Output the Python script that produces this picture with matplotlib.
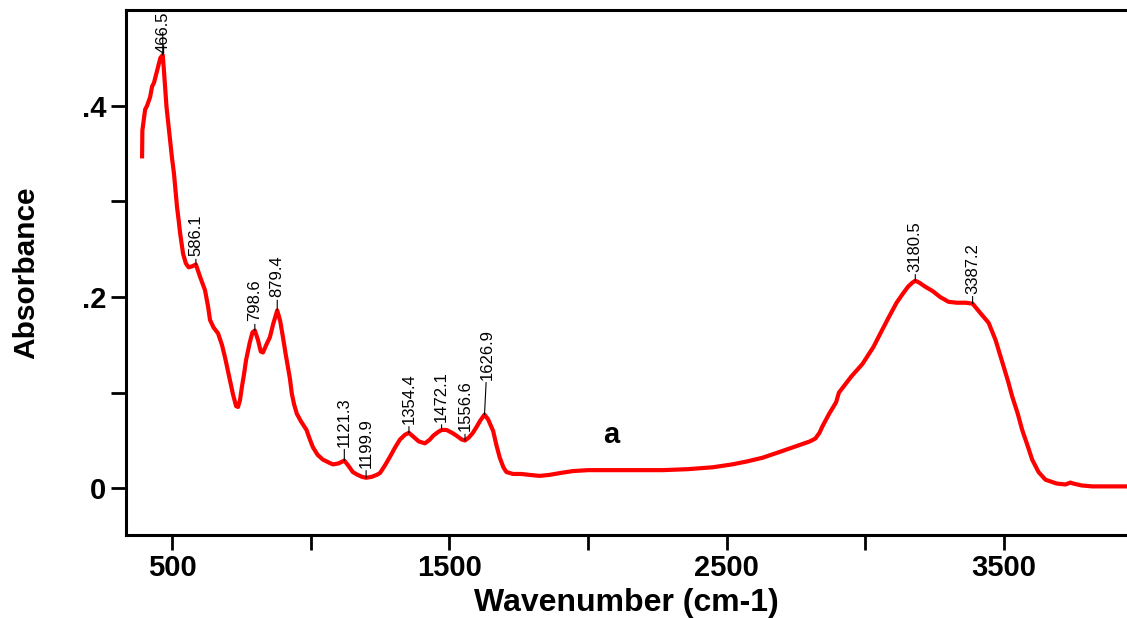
import numpy as np
import matplotlib
matplotlib.use('Agg')
import matplotlib.pyplot as plt

plt.rcParams['font.family'] = ['Liberation Sans', 'DejaVu Sans']

# 光谱数据：波数 (cm-1) 与吸光度
wavenumber = [392, 393, 403, 410, 421, 428, 435, 442, 450, 458, 466.5, 471, 476, 480, 487,
              493, 500, 507, 513, 518, 524, 529, 540, 550, 560, 572, 586.1, 600, 619, 630,
              637, 650, 666, 680, 691, 700, 709, 720, 731, 738, 745, 752, 760, 767, 780,
              790, 798.6, 810, 820, 828, 840, 853, 865, 879.4, 890, 900, 910, 918, 925, 932,
              940, 950, 965, 985, 996, 1008, 1025, 1044, 1065, 1080, 1100, 1121.3, 1135, 1152,
              1170, 1185, 1199.9, 1220, 1238, 1250, 1268, 1286, 1305, 1322, 1340, 1354.4, 1370,
              1390, 1412, 1430, 1442, 1460, 1472.1, 1490, 1510, 1526, 1545, 1556.6, 1570, 1585,
              1598, 1612, 1626.9, 1640, 1658, 1670, 1682, 1695, 1706, 1730, 1760, 1790, 1826,
              1860, 1900, 1945, 2000, 2089, 2180, 2269, 2360, 2450, 2520, 2572, 2630, 2691,
              2750, 2800, 2820, 2835, 2846, 2870, 2895, 2905, 2950, 2990, 3030, 3060, 3087,
              3113, 3137, 3155, 3170, 3180.5, 3195, 3215, 3244, 3270, 3300, 3330, 3362, 3387.2,
              3410, 3445, 3470, 3495, 3515, 3530, 3550, 3566, 3585, 3602, 3625, 3650, 3690,
              3722, 3740, 3750, 3780, 3820, 3880, 3940]
absorbance = [0.347, 0.374, 0.396, 0.400, 0.409, 0.420, 0.424, 0.432, 0.441, 0.450, 0.453, 0.436,
              0.415, 0.399, 0.380, 0.364, 0.345, 0.329, 0.310, 0.294, 0.280, 0.267, 0.245, 0.235,
              0.231, 0.232, 0.234, 0.222, 0.207, 0.190, 0.176, 0.168, 0.162, 0.150, 0.137, 0.125,
              0.113, 0.098, 0.086, 0.085, 0.092, 0.106, 0.120, 0.134, 0.152, 0.163, 0.165, 0.155,
              0.143, 0.142, 0.150, 0.158, 0.172, 0.186, 0.175, 0.158, 0.140, 0.127, 0.115, 0.099,
              0.088, 0.078, 0.070, 0.061, 0.052, 0.043, 0.035, 0.030, 0.027, 0.025, 0.026, 0.029,
              0.024, 0.017, 0.014, 0.012, 0.011, 0.012, 0.014, 0.016, 0.024, 0.033, 0.043, 0.051,
              0.056, 0.058, 0.054, 0.049, 0.047, 0.051, 0.055, 0.059, 0.061, 0.061, 0.058, 0.055,
              0.051, 0.050, 0.053, 0.058, 0.064, 0.071, 0.077, 0.072, 0.060, 0.045, 0.032, 0.022,
              0.017, 0.015, 0.015, 0.014, 0.013, 0.014, 0.016, 0.018, 0.019, 0.019, 0.019, 0.019,
              0.020, 0.022, 0.025, 0.028, 0.032, 0.038, 0.044, 0.049, 0.052, 0.058, 0.065, 0.078,
              0.090, 0.100, 0.117, 0.130, 0.148, 0.165, 0.180, 0.194, 0.204, 0.211, 0.215, 0.217,
              0.215, 0.211, 0.206, 0.200, 0.195, 0.194, 0.194, 0.193, 0.185, 0.173, 0.155, 0.131,
              0.112, 0.096, 0.078, 0.061, 0.045, 0.030, 0.017, 0.009, 0.005, 0.004, 0.006, 0.005,
              0.003, 0.002, 0.002, 0.002]

# 峰位标注
peak_labels = [466.5, 586.1, 798.6, 879.4, 1121.3, 1199.9, 1354.4, 1472.1, 1556.6, 1626.9,
               3180.5, 3387.2]
# 标注文字相对峰点的偏移 (像素)
label_offsets = [(0, 2), (0, 8), (0, 9), (0, 13), (0, 14), (0, 10), (0, 9), (0, 8), (0, 9),
                 (3, 35), (0, 9), (0, 10)]

x_ticks = [500, 1500, 2500, 3500]
x_minor = [1000, 2000, 3000]
y_ticks = [0, 0.2, 0.4]
y_tick_labels = ['0', '.2', '.4']
y_minor = [0.1, 0.3]

fig = plt.figure(figsize=(11.27, 6.18), dpi=100)
ax = fig.add_axes([126 / 1127, 1 - 535 / 618, 1 - 126 / 1127, 525 / 618])

ax.plot(wavenumber, absorbance, color='#ff0000', lw=3.0, solid_joinstyle='round')

for wn, (dx, dy) in zip(peak_labels, label_offsets):
    yv = np.interp(wn, wavenumber, absorbance)
    ax.annotate(f'{wn:.1f}', xy=(wn, yv), xytext=(dx * 0.72, dy * 0.72),
                textcoords='offset points', rotation=90, ha='center', va='bottom',
                fontsize=12, color='black',
                arrowprops=dict(arrowstyle='-', color='black', lw=0.8,
                                shrinkA=0, shrinkB=0))

ax.text(2083, 0.0557, 'a', fontsize=21, fontweight='bold', ha='center', va='center')

ax.set_xlim(334, 3944)
ax.set_ylim(-0.0488, 0.5)

ax.set_xticks(x_ticks)
ax.set_xticks(x_minor, minor=True)
ax.set_yticks(y_ticks)
ax.set_yticklabels(y_tick_labels)
ax.set_yticks(y_minor, minor=True)
ax.tick_params(which='both', direction='out', length=11, width=2, labelsize=21, pad=3)
for lab in ax.get_xticklabels() + ax.get_yticklabels():
    lab.set_fontweight('bold')

for side in ['left', 'bottom', 'top']:
    ax.spines[side].set_linewidth(2.2)
ax.spines['right'].set_visible(False)

ax.set_xlabel('Wavenumber (cm-1)', fontsize=23, fontweight='bold', labelpad=4)
ax.set_ylabel('Absorbance', fontsize=21.5, fontweight='bold', labelpad=30)

fig.savefig('out.png', dpi=100)
